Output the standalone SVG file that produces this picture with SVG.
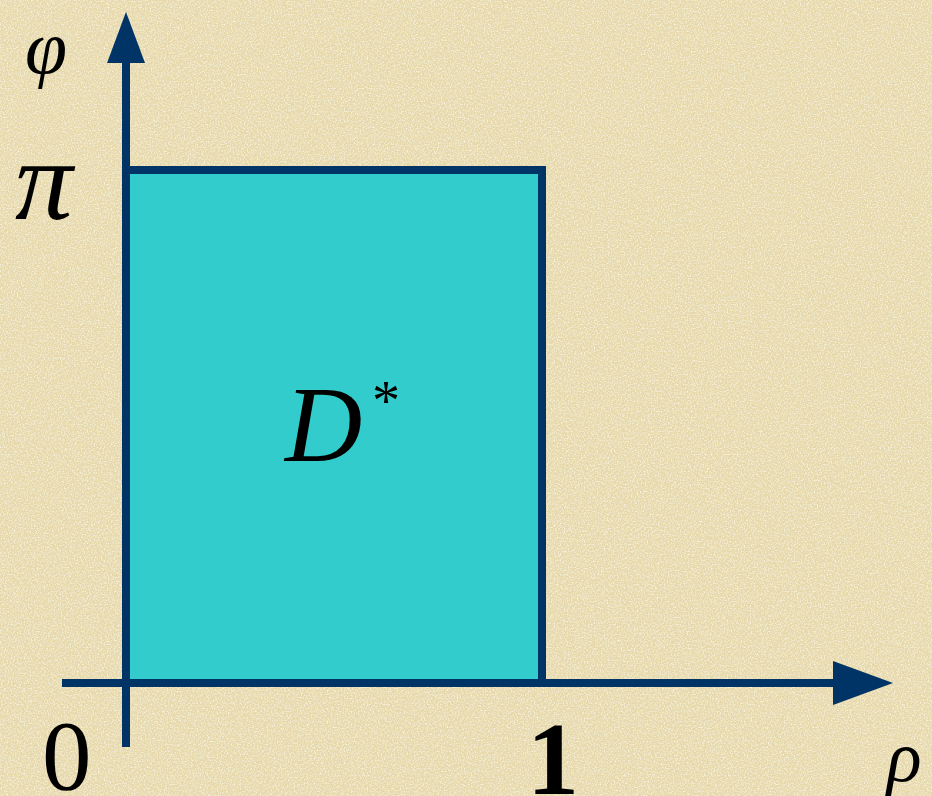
<svg xmlns="http://www.w3.org/2000/svg" width="932" height="796" viewBox="0 0 932 796">
<defs>
<style>
.ax{stroke:#003366;stroke-width:8;fill:none}
.head{fill:#003366}
.t{font-family:"Liberation Serif","Times New Roman",serif;fill:#000}
.it{font-style:italic}
</style>
<filter id="tex" x="0" y="0" width="100%" height="100%">
<feTurbulence type="fractalNoise" baseFrequency="0.7" numOctaves="2" seed="3" result="n"/>
<feColorMatrix in="n" type="matrix" values="0 0 0 0 0.96  0 0 0 0 0.93  0 0 0 0 0.79  0 0 0 2.2 -0.95" result="c"/>
<feComposite in="c" in2="SourceGraphic" operator="over"/>
</filter>
</defs>
<rect id="background" x="0" y="0" width="932" height="796" fill="#E6D8AA" filter="url(#tex)"/>
<g id="region">
<rect x="126" y="170" width="416" height="513" fill="#33CCCC" stroke="#003366" stroke-width="8"/>
</g>
<g id="connectors">
<line class="ax" x1="126" y1="747" x2="126" y2="60"/>
<polygon class="head" points="126,12 107,63 145,63"/>
<line class="ax" x1="62" y1="683" x2="836" y2="683"/>
<polygon class="head" points="893,683 833,661 833,705"/>
</g>
<g id="labels">
<text class="t it" x="25" y="73" font-size="76">φ</text>
<text class="t it" x="15" y="219" font-size="115">π</text>
<text class="t it" x="285" y="461" font-size="107">D</text>
<text class="t" x="372" y="420" font-size="56">*</text>
<text class="t" x="42" y="789" font-size="99">0</text>
<text class="t" x="527" y="794" font-size="104" font-weight="bold">1</text>
<text class="t it" x="887" y="781" font-size="72">ρ</text>
</g>
</svg>
